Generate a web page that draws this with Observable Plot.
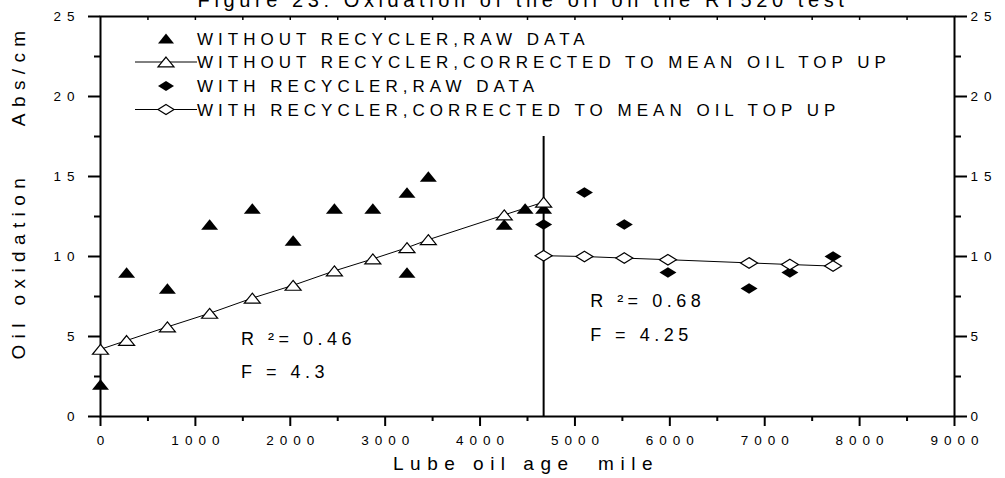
<!DOCTYPE html>
<html><head><meta charset="utf-8">
<script src="https://cdn.jsdelivr.net/npm/d3@7"></script>
<script src="https://cdn.jsdelivr.net/npm/@observablehq/plot@0.6"></script>
<style>
html,body{margin:0;padding:0;background:#fff;}
#chart svg{display:block;}
</style></head><body>
<div id="chart"></div>
<script>
// ---- texts ----
const titleText = "Figure 23: Oxidation of the oil on the RT520 test";
const xLabel = "Lube oil age  mile";
const yLabel = "Oil oxidation    Abs/cm";
const legendLabels = [
  "WITHOUT RECYCLER,RAW DATA",
  "WITHOUT RECYCLER,CORRECTED TO MEAN OIL TOP UP",
  "WITH RECYCLER,RAW DATA",
  "WITH RECYCLER,CORRECTED TO MEAN OIL TOP UP"
];
// ---- ticks ----
const xTicks = [0,1000,2000,3000,4000,5000,6000,7000,8000,9000];
const xMinor = [500,1500,2500,3500,4500,5500,6500,7500,8500];
const xTopTicks = [500,1000,1500,2000,2500,3000,3500,4000,4500,5000,5500,6000,6500,7000,7500,8000,8500];
const yTicks = [0,5,10,15,20,25];
const yMinor = [2.5,7.5,12.5,17.5,22.5];
// ---- data: without recycler ----
const noRecRawMiles = [0,275,705,1150,1600,2030,2465,2870,3230,3230,3455,4255,4475,4670];
const noRecRaw      = [2,9,8,12,13,11,13,13,14,9,15,12,13,13];
const noRecCorMiles = [0,275,705,1150,1600,2030,2465,2870,3230,3455,4255,4670];
const noRecCor      = [4.2,4.75,5.6,6.45,7.4,8.2,9.1,9.85,10.55,11.05,12.6,13.4];
// ---- data: with recycler ----
const recMiles = [4670,5100,5520,5980,6835,7265,7720];
const recRaw   = [12,14,12,9,8,9,10];
const recCor   = [10.05,10.0,9.9,9.8,9.6,9.5,9.4];
// ---- divider and annotations ----
const dividerMile = [4670];
const dividerTop = 17.5;
const annotText = ["R \u00b2= 0.46","F = 4.3","R \u00b2= 0.68","F = 4.25"];
const annotMile = [1480,1480,5160,5160];
const annotValue = [4.8,2.75,7.2,5.05];

// custom flattened symbols
const tri = {draw(ctx,size){const r=Math.sqrt(size/Math.PI);const w=r,h=r*0.62;ctx.moveTo(0,-h);ctx.lineTo(w,h);ctx.lineTo(-w,h);ctx.closePath();}};
const dia = {draw(ctx,size){const r=Math.sqrt(size/Math.PI);const w=r,h=r*0.62;ctx.moveTo(0,-h);ctx.lineTo(w,0);ctx.lineTo(0,h);ctx.lineTo(-w,0);ctx.closePath();}};

const raw1 = noRecRawMiles.map((m,i)=>({x:m,y:noRecRaw[i]}));
const cor1 = noRecCorMiles.map((m,i)=>({x:m,y:noRecCor[i]}));
const raw2 = recMiles.map((m,i)=>({x:m,y:recRaw[i]}));
const cor2 = recMiles.map((m,i)=>({x:m,y:recCor[i]}));
const annots = annotText.map((t,i)=>({t,x:annotMile[i],y:annotValue[i]}));

const FONT = "Liberation Sans, Arial, Helvetica, sans-serif";
const noText = () => "";

const svg = Plot.plot({
  width: 1005, height: 478,
  marginLeft: 100, marginRight: 51, marginTop: 16, marginBottom: 62,
  x: {domain:[0,9000]},
  y: {domain:[0,25]},
  style: {fontFamily: FONT, color: "black", background: "white"},
  marks: [
    Plot.axisX({anchor:"bottom", ticks:xTicks, tickSize:10, tickPadding:9, tickFormat:d=>String(d), fontSize:13.5, strokeWidth:2, label:null}),
    Plot.axisX({anchor:"bottom", ticks:xMinor, tickSize:5, tickFormat:noText, strokeWidth:2, label:null}),
    Plot.axisX({anchor:"top", ticks:xTopTicks, tickSize:-3, tickFormat:noText, strokeWidth:1.5, label:null}),
    Plot.axisY({anchor:"left", ticks:yTicks, tickSize:12, tickPadding:8, tickFormat:d=>String(d), fontSize:13.5, strokeWidth:2, label:null}),
    Plot.axisY({anchor:"left", ticks:yMinor, tickSize:6, tickFormat:noText, strokeWidth:2, label:null}),
    Plot.axisY({anchor:"right", ticks:yTicks, tickSize:12, tickPadding:4, tickFormat:d=>String(d), fontSize:13.5, strokeWidth:2, label:null}),
    Plot.axisY({anchor:"right", ticks:yMinor, tickSize:6, tickFormat:noText, strokeWidth:2, label:null}),
    Plot.frame({stroke:"black", strokeWidth:2}),
    Plot.ruleX(dividerMile, {y1:0, y2:dividerTop, stroke:"black", strokeWidth:2}),
    Plot.line(cor1, {x:"x", y:"y", stroke:"black", strokeWidth:1}),
    Plot.line(cor2, {x:"x", y:"y", stroke:"black", strokeWidth:1}),
    Plot.dot(raw1, {x:"x", y:"y", symbol:tri, r:8.5, fill:"black", stroke:"none"}),
    Plot.dot(cor1, {x:"x", y:"y", symbol:tri, r:8, fill:"white", stroke:"black", strokeWidth:1.2}),
    Plot.dot(raw2, {x:"x", y:"y", symbol:dia, r:8.5, fill:"black", stroke:"none"}),
    Plot.dot(cor2, {x:"x", y:"y", symbol:dia, r:8.5, fill:"white", stroke:"black", strokeWidth:1.2}),
    Plot.text(annots, {x:"x", y:"y", text:"t", textAnchor:"start", fontSize:18, fill:"black"})
  ]
});

const s = d3.select(svg);
// letter spacing / size on tick labels
s.selectAll('g[aria-label="x-axis tick label"] text')
  .style("font-size","13.5px").attr("letter-spacing", 6).attr("dx", 3);
s.selectAll('g[aria-label="y-axis tick label"] text')
  .style("font-size","13.5px").attr("letter-spacing", 6);
s.selectAll('g[aria-label="text"] text').attr("letter-spacing", 4.5);

// title (clipped at top like the reference)
s.append("text").attr("x", 523).attr("y", 7).attr("text-anchor","middle")
  .attr("font-family", FONT).attr("font-size", 20).attr("letter-spacing", 4.6).attr("fill","black").text(titleText);

// axis titles
s.append("text").attr("x", 526).attr("y", 470).attr("text-anchor","middle")
  .attr("font-family", FONT).attr("font-size", 19).attr("letter-spacing", 6.5).attr("fill","black").text(xLabel);
s.append("text").attr("transform","translate(25,192) rotate(-90)").attr("text-anchor","middle")
  .attr("font-family", FONT).attr("font-size", 19).attr("letter-spacing", 6.4).attr("fill","black").text(yLabel);

// legend
const legendRows = [38.5, 62, 86, 109.5];
const symTypes = [tri, tri, dia, dia];
const symFill = ["black","white","black","white"];
const withLine = [false,true,false,true];
const lg = s.append("g").attr("aria-label","legend");
legendLabels.forEach((lab,i)=>{
  const cy = legendRows[i];
  if (withLine[i]) lg.append("line").attr("x1",135).attr("x2",197).attr("y1",cy).attr("y2",cy).attr("stroke","black").attr("stroke-width",1);
  lg.append("path").attr("transform",`translate(166,${cy})`)
    .attr("d", d3.symbol(symTypes[i], Math.PI*64)())
    .attr("fill", symFill[i]).attr("stroke", symFill[i]==="white"?"black":"none").attr("stroke-width",1.2);
  lg.append("text").attr("x",197).attr("y",cy+6).attr("text-anchor","start").attr("font-family",FONT).attr("font-size",17)
    .attr("letter-spacing",5).attr("fill","black").text(lab);
});

document.getElementById("chart").appendChild(svg);
</script>
</body></html>
